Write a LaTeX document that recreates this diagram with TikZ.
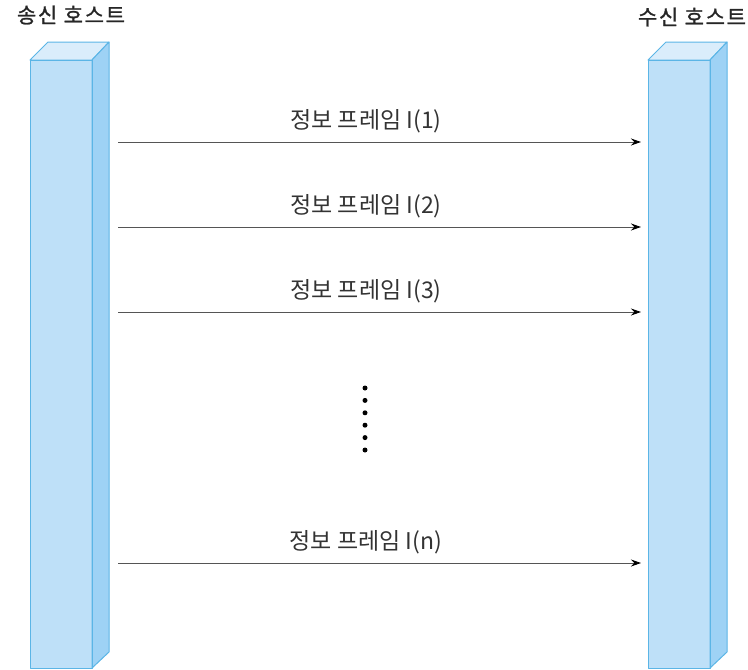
\documentclass[tikz,border=0pt]{standalone}
\usepackage{fontspec}
\setmainfont{Noto Sans CJK KR}
\newfontfamily\lblfont{Noto Sans CJK KR}
\newfontfamily\ttlfont[LetterSpace=8,FakeBold=1.2]{Noto Sans CJK KR}
\usetikzlibrary{arrows.meta}
\definecolor{frontc}{HTML}{BEE0F8}
\definecolor{topc}{HTML}{DAEDFB}
\definecolor{sidec}{HTML}{9ED2F5}
\definecolor{edgec}{HTML}{5BB5E6}
\definecolor{linec}{HTML}{555555}
\tikzset{
  face/.style={draw=edgec, line width=1pt, line join=round},
  msg/.style={draw=linec, line width=0.9pt, -{Stealth[length=10pt,width=7pt,black]}},
  lbl/.style={font=\lblfont\fontsize{23}{27}\selectfont, text=black!80, inner sep=0pt},
  title/.style={font=\ttlfont\fontsize{21}{25}\selectfont, text=black!85, inner sep=0pt},
  dot/.style={circle, fill=black, inner sep=0pt, minimum size=5pt}
}
\begin{document}
\begin{tikzpicture}[x=1pt,y=-1pt]
\useasboundingbox (0,0) rectangle (748,670);
\newcommand{\hostbar}[1]{%
  \fill[frontc] (#1,60) rectangle (#1+62,668);
  \filldraw[face, fill=topc] (#1,60) -- (#1+18,42) -- (#1+79,42) -- (#1+62,60) -- cycle;
  \filldraw[face, fill=sidec] (#1+62,60) -- (#1+79,42) -- (#1+79,652) -- (#1+62,668) -- cycle;
  \draw[face] (#1,60) rectangle (#1+62,668);
}
\hostbar{30}
\hostbar{648}
\node[title] (snd) at (71,15) {송신 호스트};
\node[title] (rcv) at (692,17) {수신 호스트};
\coordinate (s1) at (118,142); \coordinate (r1) at (641,142);
\coordinate (s2) at (118,227); \coordinate (r2) at (641,227);
\coordinate (s3) at (118,312); \coordinate (r3) at (641,312);
\coordinate (sn) at (118,563); \coordinate (rn) at (641,563);
\draw[msg] (s1) -- (r1);
\draw[msg] (s2) -- (r2);
\draw[msg] (s3) -- (r3);
\draw[msg] (sn) -- (rn);
\node[lbl] (l1) at (366,121) {정보 프레임 I(1)};
\node[lbl] (l2) at (366,206) {정보 프레임 I(2)};
\node[lbl] (l3) at (366,291) {정보 프레임 I(3)};
\node[lbl] (ln) at (366,542) {정보 프레임 I(n)};
\foreach \i in {0,...,5} {
  \node[dot] (d\i) at (365,388+12.4*\i) {};
}
\end{tikzpicture}
\end{document}
